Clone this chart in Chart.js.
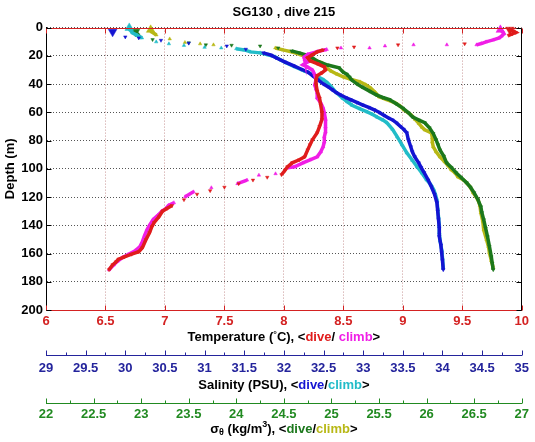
<!DOCTYPE html>
<html>
<head>
<meta charset="utf-8">
<script src="https://cdn.jsdelivr.net/npm/chart.js@4.4.0/dist/chart.umd.min.js"></script>
<style>
  html, body { margin: 0; padding: 0; background: #fff; }
</style>
</head>
<body>
<canvas id="c" width="535" height="442"></canvas>
<script>
// [depth (m), value] pairs, shallowest first
const tempDive = [
  [1.5, 9.90], [2.5, 9.93], [3.5, 9.95], [4.5, 9.92], [5.5, 9.89], [11.5, 9.52], [12.2, 8.96],
  [13.7, 8.59], [14.4, 8.45], [15.8, 8.33], [17.2, 8.28], [19.3, 8.24], [21.4, 8.20],
  [23.5, 8.22], [25.5, 8.28], [27.8, 8.34], [30, 8.35], [32, 8.32], [34, 8.28], [37, 8.27],
  [40, 8.27], [45, 8.28], [50, 8.30], [55, 8.31], [60, 8.32], [65, 8.32], [70, 8.30], [74.5, 8.28],
  [79.5, 8.24], [83, 8.22], [86.6, 8.20], [91.5, 8.175], [93.6, 8.13], [95.8, 8.07], [98.6, 8.03],
  [101, 8.01], [104.2, 7.98], [106, 7.86], [108, 7.74], [110.5, 7.62], [113, 7.50], [115.5, 7.38],
  [118, 7.27], [121.9, 7.16], [126, 7.06], [128, 7.02], [130, 6.98], [134, 6.95], [138, 6.91],
  [141, 6.89], [145.3, 6.87], [150.2, 6.84], [155.9, 6.81], [158.7, 6.78], [160.5, 6.72],
  [162.3, 6.66], [164, 6.61], [165.8, 6.59], [168, 6.56], [171.5, 6.53]
];
const tempClimb = [
  [1.6, 9.82], [3, 9.84], [4.4, 9.85], [6, 9.83], [7.3, 9.81], [8.7, 9.76], [10.1, 9.70], [11.3, 9.66],
  [12.2, 9.62], [12.2, 9.37], [12.2, 9.09], [13, 8.85], [14.4, 8.72], [14.4, 8.48],
  [15.5, 8.36], [17, 8.28], [19, 8.20], [21, 8.17], [22.9, 8.175], [24.3, 8.20], [26.4, 8.16],
  [28, 8.20], [30, 8.24], [33.5, 8.26], [37, 8.27], [40.6, 8.26], [43.5, 8.27], [46.2, 8.28], [49.8, 8.28],
  [53.3, 8.31], [57, 8.33], [60.4, 8.34], [65, 8.35], [70.3, 8.35], [74, 8.35], [77.4, 8.34],
  [81, 8.34], [84.4, 8.33], [88, 8.31], [91.5, 8.28], [93.6, 8.22], [95.8, 8.16], [98.6, 8.09],
  [99.3, 8.03], [103.5, 7.93], [104.5, 7.79], [108, 7.69], [110.5, 7.61], [113.4, 7.39],
  [116.3, 7.24], [119.8, 7.17], [124, 7.075], [126, 7.03], [128, 7.01], [130, 6.975], [133, 6.94],
  [136, 6.90], [140, 6.87], [143, 6.85], [147, 6.83], [151.6, 6.81], [155, 6.79], [158, 6.75],
  [160.8, 6.69], [163, 6.64], [165.5, 6.60], [168, 6.57], [171.5, 6.53]
];
const salDive = [
  [3, 29.84], [6.6, 30.00], [7.3, 30.17], [9, 30.45], [11, 30.80], [13, 31.28], [15.3, 31.52],
  [17.9, 31.74], [19.5, 31.84], [21.4, 31.90], [24.3, 32.01], [27, 32.12], [29.5, 32.22], [31.4, 32.30],
  [34, 32.36], [37, 32.43], [40, 32.50], [42, 32.56], [44, 32.61], [46, 32.66], [47.6, 32.71],
  [49.5, 32.78], [51, 32.84], [53, 32.92], [54.7, 32.99], [56.5, 33.07], [58.2, 33.14], [60, 33.20],
  [62, 33.26], [64, 33.32], [65.4, 33.37], [67.5, 33.42], [70, 33.47], [72, 33.51], [74.5, 33.55],
  [79.5, 33.57], [84.4, 33.60], [88, 33.62], [91.5, 33.65], [95.8, 33.70], [99, 33.73], [102.8, 33.77],
  [108, 33.82], [112.7, 33.86], [118, 33.90], [124, 33.93], [130, 33.94], [136, 33.95], [142, 33.96],
  [148, 33.96], [154, 33.98], [159.4, 33.99], [165, 34.00], [171.5, 34.01]
];
const salClimb = [
  [0.2, 30.05], [1.6, 30.06], [3.7, 30.09], [5.5, 30.15], [7.3, 30.21], [10.1, 30.39], [11.5, 30.55],
  [12.6, 30.74], [14, 31.00], [14.4, 31.21], [15, 31.40], [15.8, 31.50], [17.2, 31.58], [17.9, 31.70],
  [19.3, 31.80], [20.7, 31.89], [23, 31.96], [25, 32.03], [27.8, 32.14], [31, 32.27], [33, 32.36],
  [34.9, 32.43], [37, 32.50], [39.1, 32.55], [42, 32.60], [46, 32.66], [50, 32.74], [52.5, 32.80],
  [55, 32.86], [57.5, 32.96], [59.7, 33.05], [61.5, 33.12], [63.5, 33.18], [65.5, 33.25], [67.4, 33.30],
  [72, 33.37], [77.4, 33.43], [83, 33.49], [88.7, 33.55], [94, 33.62], [98.6, 33.68], [103, 33.74],
  [107.8, 33.80], [111, 33.85], [114.9, 33.89], [118, 33.91], [121.9, 33.93], [128, 33.94], [134, 33.95],
  [140, 33.96], [145.3, 33.96], [151, 33.97], [157.3, 33.99], [163, 34.00], [170.1, 34.01]
];
const sigDive = [
  [3, 22.94], [3.8, 22.95], [5.2, 22.97], [6.6, 22.98], [8.5, 23.12], [10.8, 23.50], [12.2, 23.68],
  [12.5, 23.95], [13, 24.25], [14.4, 24.44], [16.5, 24.58], [17.9, 24.66], [19.5, 24.74], [21.5, 24.80],
  [24, 24.86], [26.5, 24.96], [28.5, 25.08], [31.4, 25.12], [33, 25.16], [35, 25.19], [37, 25.21],
  [40, 25.27], [42, 25.32], [45, 25.40], [47.6, 25.47], [49.5, 25.54], [51, 25.61], [54, 25.68],
  [57, 25.75], [60.4, 25.81], [63.2, 25.85], [65.5, 25.92], [67.4, 25.98], [71, 26.03], [75, 26.07],
  [79.5, 26.10], [83, 26.12], [86.6, 26.14], [91, 26.18], [95.8, 26.21], [99, 26.26], [102.8, 26.31],
  [106, 26.36], [109.9, 26.42], [113, 26.46], [117, 26.50], [121.9, 26.54], [126.9, 26.57], [131, 26.58],
  [136.1, 26.60], [142, 26.62], [148.1, 26.64], [155, 26.66], [162.3, 26.68], [167, 26.69], [171.5, 26.70]
];
const sigClimb = [
  [1.6, 23.10], [3, 23.11], [5.2, 23.16], [8, 23.30], [10.5, 23.46], [11.5, 23.62], [12.2, 23.76],
  [14.4, 24.41], [15.8, 24.49], [17.5, 24.60], [19.3, 24.68], [21, 24.74], [22.9, 24.80], [25, 24.90],
  [27, 24.93], [28.5, 24.95], [31, 25.00], [33, 25.06], [35, 25.13], [36.5, 25.20], [38.4, 25.30],
  [40.5, 25.36], [42.7, 25.41], [46, 25.46], [49, 25.50], [51, 25.58], [53.3, 25.67], [55.5, 25.72],
  [58.2, 25.76], [62, 25.84], [65, 25.88], [68, 25.92], [70.5, 25.95], [72.4, 25.98], [74.5, 26.05],
  [78, 26.06], [81, 26.06], [84.4, 26.07], [88, 26.10], [91.5, 26.14], [95, 26.19], [98, 26.23],
  [100.7, 26.26], [103, 26.30], [105.7, 26.33], [108, 26.39], [109.9, 26.42], [113, 26.46], [117, 26.49],
  [121.9, 26.54], [126, 26.56], [131.1, 26.57], [137, 26.59], [143.2, 26.60], [150.2, 26.63],
  [155, 26.65], [159.4, 26.66], [165, 26.68], [170.1, 26.70]
];

const FONT = "'Liberation Sans', Arial, sans-serif";
const RED = '#e01c1c', MAGENTA = '#f01ee6', BLUE = '#1414d2', CYAN = '#22bcc8',
      GREEN = '#1c781c', OLIVE = '#b8b816';
const T_AXIS = '#d42222', S_AXIS = '#24249c', D_AXIS = '#218a21';

Chart.defaults.font.family = FONT;

// hide the joining stroke where the glider's samples are far apart
const gapColor = ctx =>
  Math.hypot(ctx.p1.x - ctx.p0.x, ctx.p1.y - ctx.p0.y) > 12.5 ? 'rgba(0,0,0,0)' : undefined;

function series(label, pairs, axis, color, dive) {
  return {
    label: label,
    xAxisID: axis,
    yAxisID: 'y',
    data: pairs.map(p => ({ x: p[1], y: p[0] })),
    showLine: true,
    borderColor: color,
    backgroundColor: color,
    borderWidth: 3.5,
    tension: 0,
    pointStyle: 'triangle',
    rotation: dive ? 180 : 0,
    pointRadius: c => c.dataIndex === 0 ? 5 : 2,
    pointBorderWidth: 0.5,
    pointBorderColor: color,
    segment: { borderColor: gapColor },
    clip: false
  };
}

function rich(ctx, parts, cx, cy) {
  let w = 0;
  parts.forEach(p => {
    ctx.font = 'bold ' + (p.s || 13) + 'px ' + FONT;
    p.w = ctx.measureText(p.t).width;
    w += p.w;
  });
  let x = cx - w / 2;
  ctx.textAlign = 'left';
  ctx.textBaseline = 'middle';
  parts.forEach(p => {
    ctx.font = 'bold ' + (p.s || 13) + 'px ' + FONT;
    ctx.fillStyle = p.c || '#000';
    ctx.fillText(p.t, x, cy + (p.dy || 0));
    x += p.w;
  });
}

function seg(ctx, x1, y1, x2, y2) {
  ctx.beginPath();
  ctx.moveTo(x1, y1);
  ctx.lineTo(x2, y2);
  ctx.stroke();
}

function upTicks(ctx, scale, step, major, color) {
  ctx.strokeStyle = color;
  const n = Math.round((scale.max - scale.min) / step);
  for (let i = 0; i <= n; i++) {
    const v = scale.min + i * step;
    const px = Math.round(scale.getPixelForValue(v)) + 0.5;
    const len = Math.abs(v / major - Math.round(v / major)) < 1e-6 ? 5 : 3;
    seg(ctx, px, scale.top + 0.5, px, scale.top + 0.5 - len);
  }
}

const axisDecor = {
  id: 'axisDecor',
  afterDraw(chart) {
    const ctx = chart.ctx, a = chart.chartArea;
    const xT = chart.scales.xT, xS = chart.scales.xS, xD = chart.scales.xD, y = chart.scales.y;
    const L = Math.round(a.left) + 0.5, R = Math.round(a.right) - 0.5;
    const T = Math.round(a.top) + 0.5, B = Math.round(a.bottom) + 0.5;
    ctx.save();
    ctx.lineWidth = 1;
    // box
    ctx.strokeStyle = T_AXIS;
    seg(ctx, L, T, R, T);
    seg(ctx, L, B, R, B);
    ctx.strokeStyle = '#000';
    seg(ctx, L, T, L, B);
    seg(ctx, R, T, R, B);
    // inward ticks
    ctx.strokeStyle = T_AXIS;
    xT.ticks.forEach(t => {
      const px = Math.round(xT.getPixelForValue(t.value)) + 0.5;
      seg(ctx, px, T, px, T + 5);
      seg(ctx, px, B, px, B - 5);
    });
    ctx.strokeStyle = '#000';
    y.ticks.forEach(t => {
      const py = Math.round(y.getPixelForValue(t.value)) + 0.5;
      seg(ctx, L, py, L + 5, py);
      seg(ctx, R, py, R - 5, py);
    });
    // extra axes below
    upTicks(ctx, xS, 0.25, 0.5, S_AXIS);
    upTicks(ctx, xD, 0.25, 0.5, D_AXIS);
    // axis titles
    const cx = (a.left + a.right) / 2;
    rich(ctx, [
      { t: 'Temperature (' }, { t: '°', s: 9, dy: -2 }, { t: 'C), <' },
      { t: 'dive', c: RED }, { t: '/ ' }, { t: 'climb', c: MAGENTA }, { t: '>' }
    ], cx, xT.top + 27);
    rich(ctx, [
      { t: 'Salinity (PSU), <' }, { t: 'dive', c: BLUE }, { t: '/' },
      { t: 'climb', c: CYAN }, { t: '>' }
    ], cx, xS.top + 30);
    rich(ctx, [
      { t: 'σ' }, { t: 'θ', s: 9, dy: 4 }, { t: ' (kg/m' }, { t: '3', s: 9, dy: -4 },
      { t: '), <' }, { t: 'dive', c: GREEN }, { t: '/' }, { t: 'climb', c: OLIVE }, { t: '>' }
    ], cx, xD.top + 26);
    ctx.restore();
  }
};

const numLabel = v => String(+Number(v).toFixed(2));
const boldTicks = (color, pad) => ({
  color: color, padding: pad, autoSkip: false, maxRotation: 0,
  font: { size: 13, weight: 'bold' }, callback: numLabel
});

new Chart(document.getElementById('c'), {
  type: 'scatter',
  data: {
    datasets: [
      series('Temperature dive', tempDive, 'xT', RED, true),
      series('Temperature climb', tempClimb, 'xT', MAGENTA, false),
      series('Salinity dive', salDive, 'xS', BLUE, true),
      series('Salinity climb', salClimb, 'xS', CYAN, false),
      series('Sigma-theta dive', sigDive, 'xD', GREEN, true),
      series('Sigma-theta climb', sigClimb, 'xD', OLIVE, false)
    ]
  },
  options: {
    responsive: false,
    animation: false,
    layout: { padding: { left: 0, right: 9, top: 0, bottom: 0 } },
    plugins: {
      legend: { display: false },
      tooltip: { enabled: false },
      title: {
        display: true,
        text: 'SG130 , dive 215',
        fullSize: false,
        color: '#000',
        font: { size: 13, weight: 'bold' },
        padding: { top: 5, bottom: 7 }
      }
    },
    scales: {
      y: {
        type: 'linear',
        position: 'left',
        reverse: true,
        min: 0,
        max: 200,
        ticks: { stepSize: 20, color: '#000', padding: 3, font: { size: 13, weight: 'bold' } },
        grid: { color: '#555', lineWidth: 1, drawTicks: false },
        border: { display: true, color: '#000', dash: [1, 2] },
        title: {
          display: true, text: 'Depth (m)', color: '#000',
          font: { size: 13, weight: 'bold' }, padding: { top: 3, bottom: 0 }
        },
        afterFit: s => { s.width = 46; }
      },
      xT: {
        type: 'linear',
        position: 'bottom',
        weight: 0,
        min: 6,
        max: 10,
        ticks: Object.assign({ stepSize: 0.5 }, boldTicks(T_AXIS, 4)),
        grid: { color: 'rgba(200,150,150,1)', lineWidth: 1, drawTicks: false },
        border: { display: true, color: T_AXIS, dash: [1, 2] },
        afterFit: s => { s.height = 45; }
      },
      xS: {
        type: 'linear',
        position: 'bottom',
        weight: 1,
        min: 29,
        max: 35,
        ticks: Object.assign({ stepSize: 0.5 }, boldTicks(S_AXIS, 6)),
        grid: { display: false, drawTicks: false },
        border: { display: true, color: S_AXIS },
        afterFit: s => { s.height = 48; }
      },
      xD: {
        type: 'linear',
        position: 'bottom',
        weight: 2,
        min: 22,
        max: 27,
        ticks: Object.assign({ stepSize: 0.5 }, boldTicks(D_AXIS, 4)),
        grid: { display: false, drawTicks: false },
        border: { display: true, color: D_AXIS },
        afterFit: s => { s.height = 39; }
      }
    }
  },
  plugins: [axisDecor]
});
</script>
</body>
</html>
